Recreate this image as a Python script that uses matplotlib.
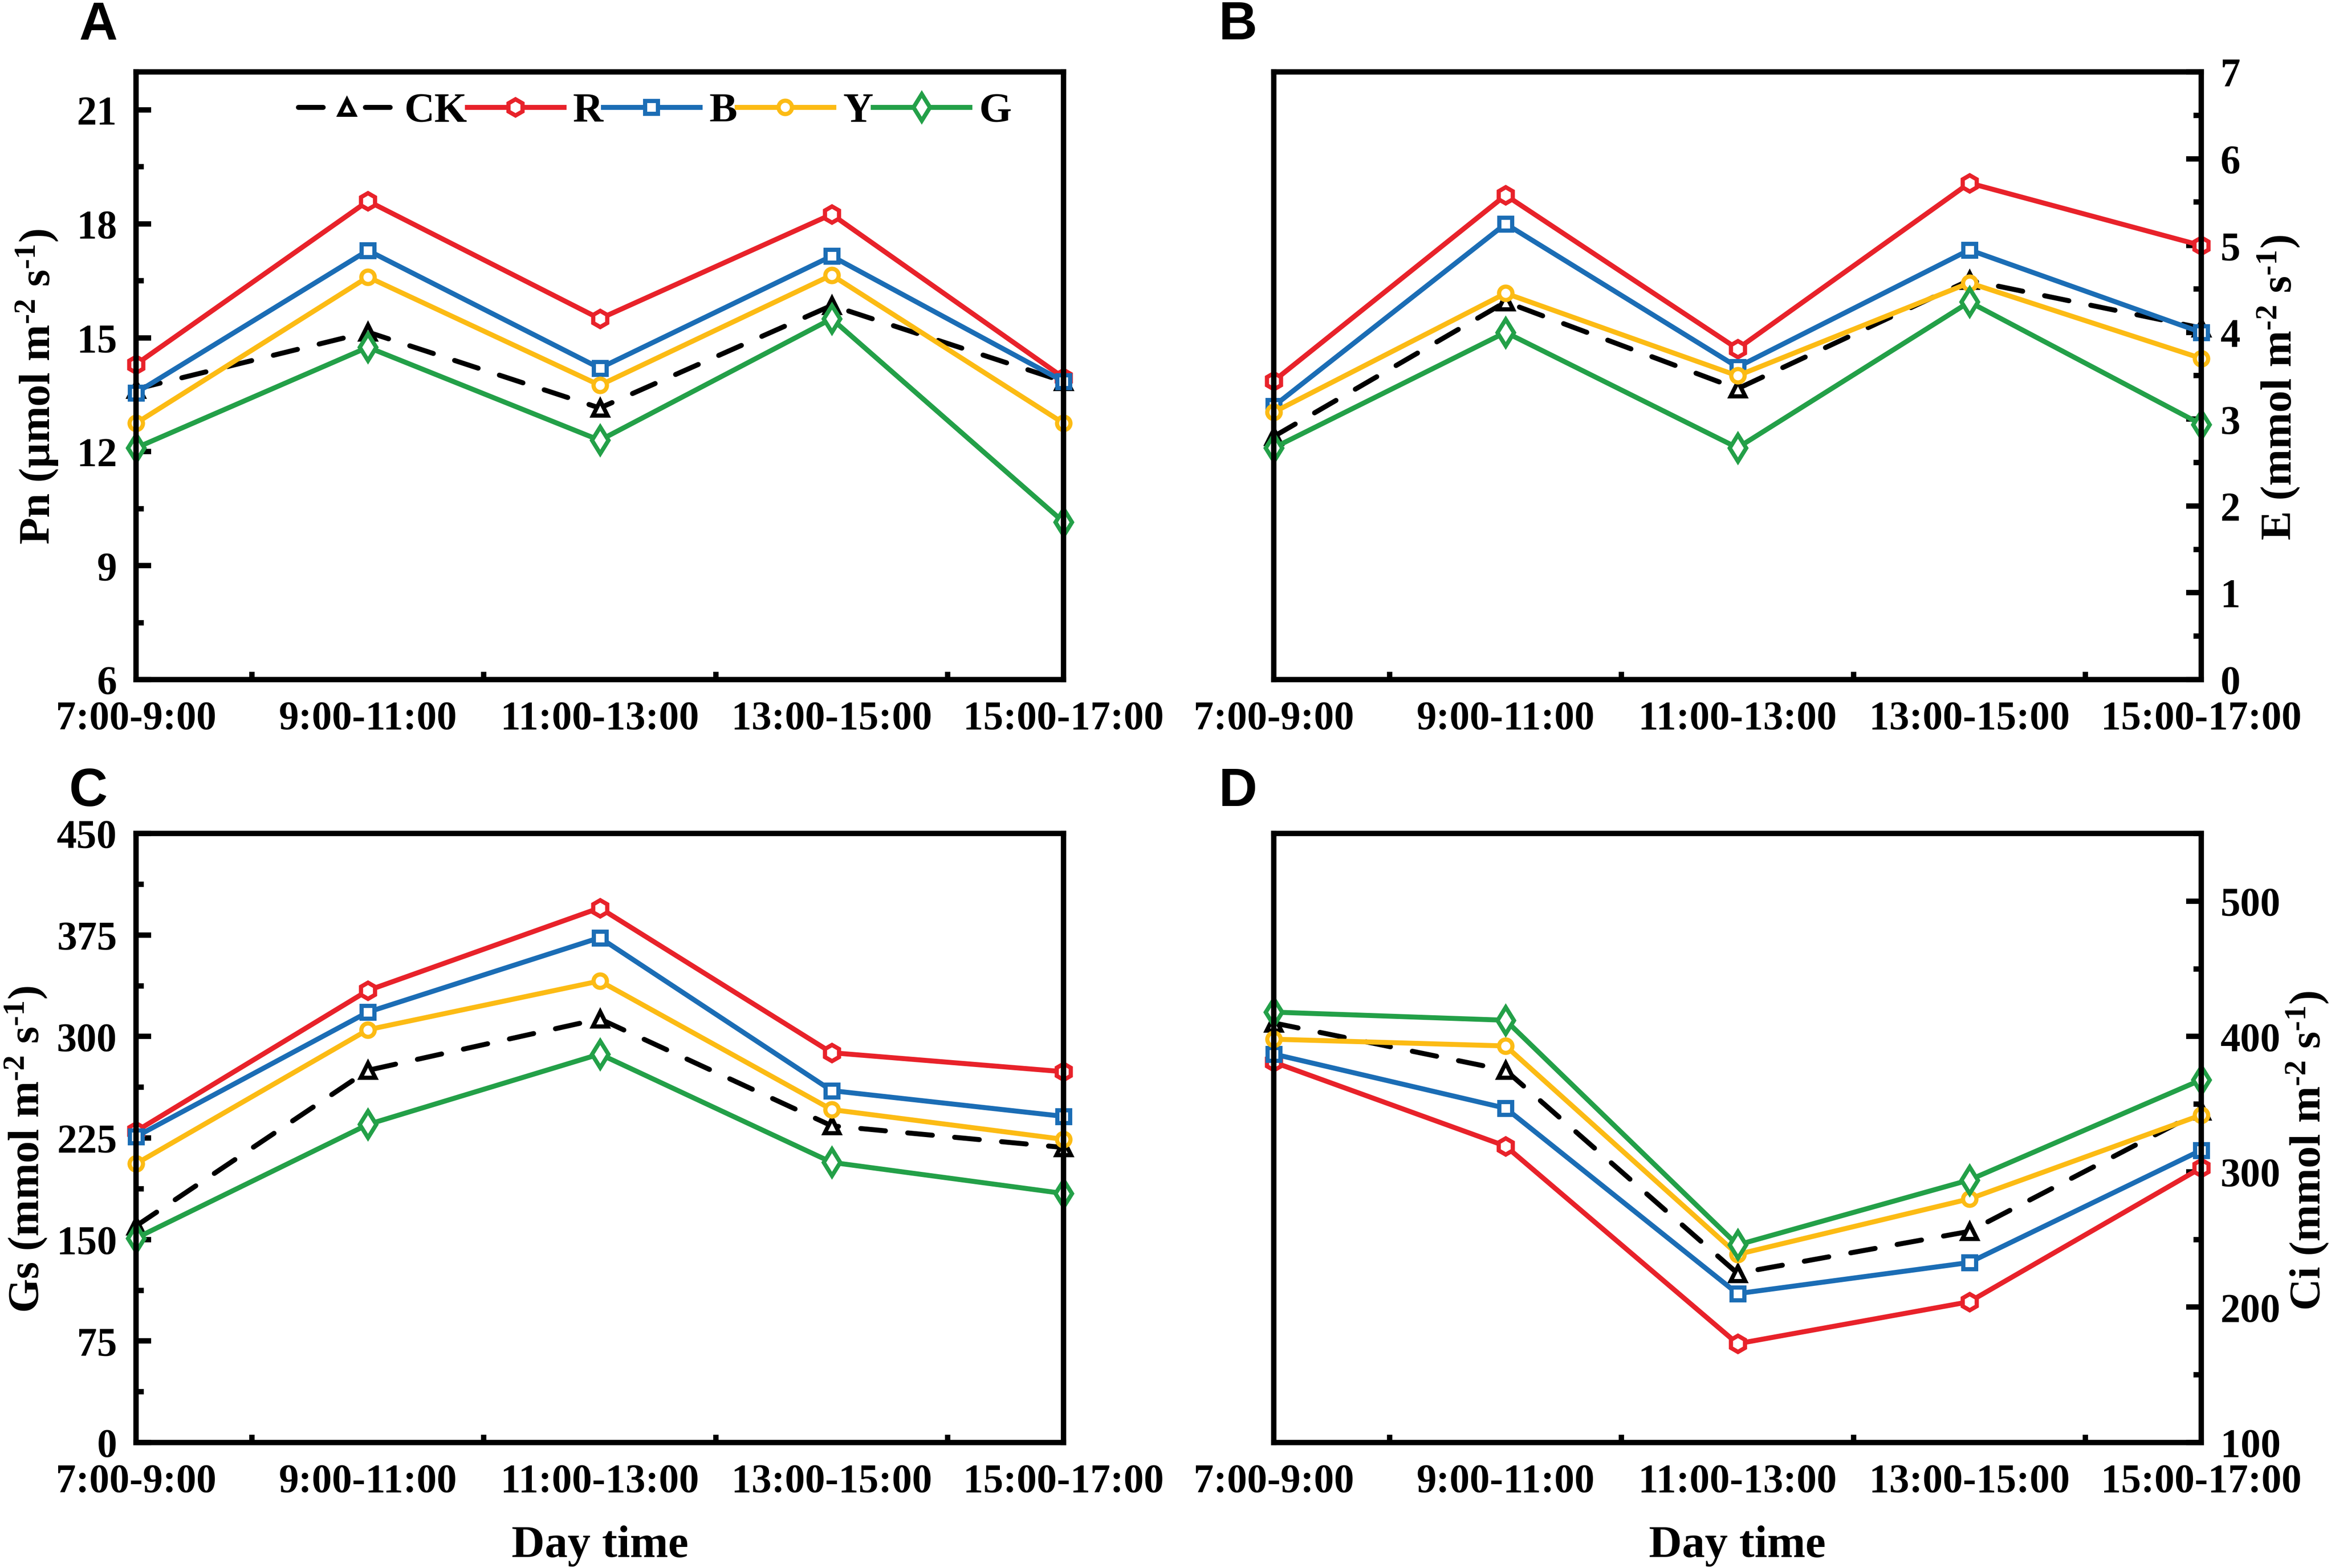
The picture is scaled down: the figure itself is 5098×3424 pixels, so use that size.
import matplotlib
matplotlib.use("Agg")
import matplotlib.pyplot as plt
from matplotlib.ticker import MultipleLocator, FixedLocator

plt.rcParams['font.family'] = ['Liberation Serif', 'DejaVu Serif']
plt.rcParams['font.weight'] = 'bold'
plt.rcParams['mathtext.fontset'] = 'custom'
plt.rcParams['mathtext.rm'] = 'Liberation Serif:bold'
plt.rcParams['mathtext.it'] = 'Liberation Serif:bold'
plt.rcParams['mathtext.bf'] = 'Liberation Serif:bold'
plt.rcParams['mathtext.default'] = 'rm'

# data
periods = ["7:00-9:00", "9:00-11:00", "11:00-13:00", "13:00-15:00", "15:00-17:00"]
treatments = ["CK", "R", "B", "Y", "G"]

pn_ck = [13.65, 15.15, 13.15, 15.85, 13.85]
pn_r = [14.3, 18.6, 15.5, 18.25, 13.95]
pn_b = [13.55, 17.3, 14.2, 17.15, 13.85]
pn_y = [12.75, 16.6, 13.75, 16.65, 12.75]
pn_g = [12.1, 14.75, 12.3, 15.5, 10.15]

e_ck = [2.8, 4.35, 3.35, 4.6, 4.05]
e_r = [3.44, 5.58, 3.81, 5.72, 5.0]
e_b = [3.15, 5.25, 3.6, 4.95, 4.0]
e_y = [3.08, 4.45, 3.5, 4.57, 3.7]
e_g = [2.67, 4.0, 2.67, 4.35, 2.94]

gs_ck = [160, 275, 313, 234, 218]
gs_r = [230, 334, 395, 288, 274]
gs_b = [226, 318, 373, 260, 241]
gs_y = [206, 305, 341, 246, 224]
gs_g = [151, 235, 287, 207, 184]

ci_ck = [410, 375, 225, 256, 345]
ci_r = [381, 319, 173, 204, 303]
ci_b = [387, 347, 210, 233, 316]
ci_y = [398, 393, 239, 280, 342]
ci_g = [418, 412, 246, 294, 368]

colors = ['black', '#E8222A', '#1B6DB5', '#FCBB14', '#23A048']
markers = ['^', 'h', 's', 'o', 'd']
msizes = [7.5, 8.5, 6.5, 7.0, 10.0]

W, H = 5098, 3424
fig = plt.figure(figsize=(W / 300, H / 300), dpi=300)


def px_axes(l, t, r, b):
    return fig.add_axes([l / W, 1 - b / H, (r - l) / W, (b - t) / H])


def draw(ax, series, ylim, major, minor, side):
    x = list(range(len(periods)))
    for vals, name, c, m, s in zip(series, treatments, colors, markers, msizes):
        if name == 'CK':
            ax.plot(x, vals, color=c, lw=2.6, ls=(0, (5, 4.5)), dash_capstyle='round',
                    marker=m, ms=s, mfc='white', mec=c, mew=2.2, label=name, clip_on=False)
        else:
            ax.plot(x, vals, color=c, lw=2.6, marker=m, ms=s, mfc='white', mec=c,
                    mew=2.2, label=name, clip_on=False)
    ax.set_xlim(0, 4)
    ax.set_xticks(x)
    ax.set_xticklabels(periods)
    ax.xaxis.set_minor_locator(FixedLocator([0.5, 1.5, 2.5, 3.5]))
    ax.tick_params(axis='x', which='major', length=0, pad=11, labelsize=21)
    ax.tick_params(axis='x', which='minor', direction='in', length=4, width=2.8)
    ax.set_ylim(ylim)
    ax.yaxis.set_major_locator(MultipleLocator(major))
    ax.yaxis.set_minor_locator(MultipleLocator(minor))
    if side == 'left':
        ax.tick_params(axis='y', which='both', direction='in', left=True, right=False,
                       labelleft=True, labelright=False)
    else:
        ax.tick_params(axis='y', which='both', direction='in', left=False, right=True,
                       labelleft=False, labelright=True)
    ax.tick_params(axis='y', which='major', length=8, width=2.8, pad=10, labelsize=21)
    ax.tick_params(axis='y', which='minor', length=4, width=2.8)
    for sp in ax.spines.values():
        sp.set_linewidth(2.8)


axA = px_axes(297, 157, 2322, 1484)
axB = px_axes(2781, 157, 4806, 1484)
axC = px_axes(297, 1820, 2322, 3150)
axD = px_axes(2781, 1820, 4806, 3150)

draw(axA, [pn_ck, pn_r, pn_b, pn_y, pn_g], (6, 22), 3, 1.5, 'left')
draw(axB, [e_ck, e_r, e_b, e_y, e_g], (0, 7), 1, 0.5, 'right')
draw(axC, [gs_ck, gs_r, gs_b, gs_y, gs_g], (0, 450), 75, 37.5, 'left')
draw(axD, [ci_ck, ci_r, ci_b, ci_y, ci_g], (100, 550), 100, 50, 'right')

leg = axA.legend(loc='center left', bbox_to_anchor=(0.175, 0.935), ncol=5, frameon=False,
                 fontsize=22, handlelength=2.3, handletextpad=0.22, columnspacing=0.0,
                 borderaxespad=0, borderpad=0)
# dash - triangle - dash in the CK legend entry
leg.legend_handles[0].set_linestyle((0, (5, 8.5)))

unit = r" (mmol m$^{\text{-2}}$ s$^{\text{-1}}$)"
fig.text(81 / W, 1 - 844 / H, r"Pn (μmol m$^{\text{-2}}$ s$^{\text{-1}}$)", rotation=90,
         ha='center', va='center', fontsize=23)
fig.text(4975 / W, 1 - 847 / H, "E" + unit, rotation=90, ha='center', va='center', fontsize=23)
fig.text(57 / W, 1 - 2510 / H, "Gs" + unit, rotation=90, ha='center', va='center', fontsize=23)
fig.text(5038 / W, 1 - 2513 / H, "Ci" + unit, rotation=90, ha='center', va='center', fontsize=23)

fig.text(1310 / W, 1 - 3400 / H, "Day time", ha='center', va='baseline', fontsize=24)
fig.text(3793 / W, 1 - 3400 / H, "Day time", ha='center', va='baseline', fontsize=24)

for lab, xp, yp in [("A", 172, 86), ("B", 2660, 86), ("C", 150, 1760), ("D", 2660, 1760)]:
    fig.text(xp / W, 1 - yp / H, lab, family='Liberation Sans', weight='bold',
             fontsize=28, va='baseline', ha='left')

fig.savefig("out.png", dpi=300)
